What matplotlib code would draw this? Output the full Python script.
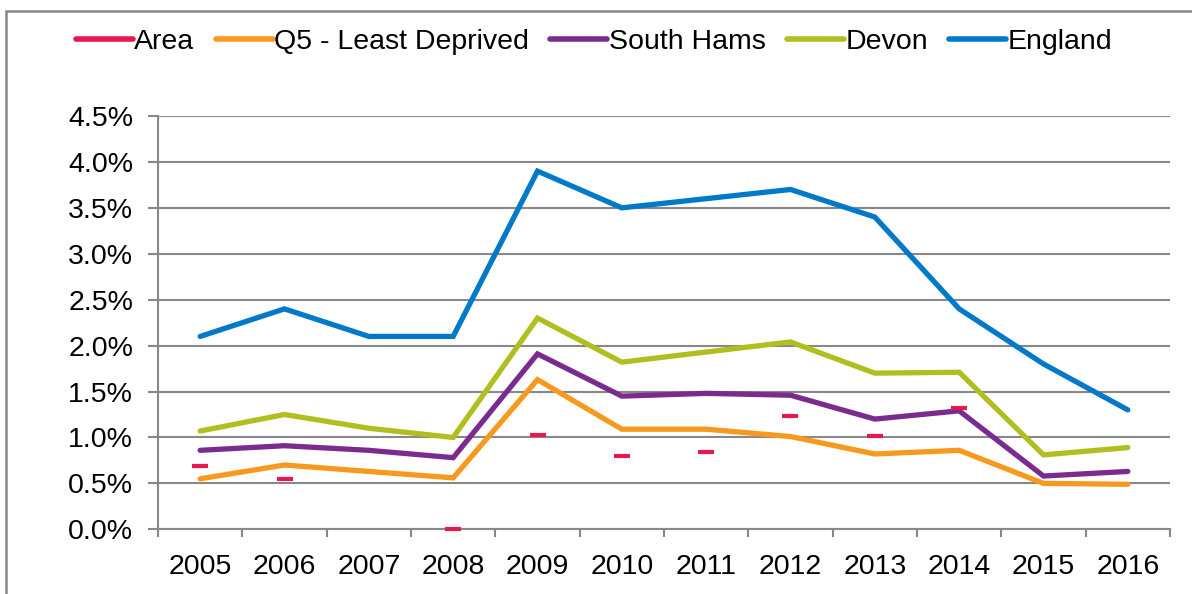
import numpy as np
import matplotlib
matplotlib.use("Agg")
import matplotlib.pyplot as plt
from matplotlib.lines import Line2D
from matplotlib.patches import Rectangle
from matplotlib.ticker import FuncFormatter

plt.rcParams['font.family'] = ['Liberation Sans', 'DejaVu Sans']

years = ['2005', '2006', '2007', '2008', '2009', '2010', '2011', '2012',
         '2013', '2014', '2015', '2016']
area = [0.69, 0.55, np.nan, 0.0, 1.03, 0.80, 0.84, 1.23, 1.02, 1.32, np.nan, np.nan]
q5 = [0.55, 0.70, 0.63, 0.56, 1.63, 1.09, 1.09, 1.01, 0.82, 0.86, 0.50, 0.49]
south_hams = [0.86, 0.91, 0.86, 0.78, 1.91, 1.45, 1.48, 1.46, 1.20, 1.29, 0.58, 0.63]
devon = [1.07, 1.25, 1.10, 1.00, 2.30, 1.82, 1.93, 2.04, 1.70, 1.71, 0.81, 0.89]
england = [2.1, 2.4, 2.1, 2.1, 3.9, 3.5, 3.6, 3.7, 3.4, 2.4, 1.8, 1.3]

c_area = '#E8174F'
c_q5 = '#F7991F'
c_sh = '#7B2A8E'
c_devon = '#B2BE1F'
c_eng = '#0079C8'
grid_c = '#888888'

W, H = 1192, 594
fig = plt.figure(figsize=(W / 100, H / 100), dpi=100)
ax = fig.add_axes([158 / W, 1 - 529.3 / H, (1170 - 158) / W, (529.3 - 116) / H])

x = np.arange(len(years))
lw = 3.8
for vals, c in [(q5, c_q5), (south_hams, c_sh), (devon, c_devon), (england, c_eng)]:
    ax.plot(x, vals, color=c, lw=lw, solid_capstyle='round', solid_joinstyle='miter', zorder=3)
ax.plot(x, area, linestyle='none', marker='_', markersize=11, markeredgewidth=3.0,
        color=c_area, zorder=4, clip_on=False)

ax.set_xlim(-0.5, len(years) - 0.5)
ax.set_ylim(0, 4.5)
ax.set_yticks(np.arange(0, 4.51, 0.5))
ax.yaxis.set_major_formatter(FuncFormatter(lambda v, p: f'{v:.1f}%'))
ax.set_xticks(x)
ax.set_xticklabels(years)
ax.set_xticks(np.arange(-0.5, len(years), 1.0), minor=True)

fs = 20.5
ax.tick_params(axis='x', which='major', length=0, pad=18, labelsize=fs)
ax.tick_params(axis='x', which='minor', length=6, width=1.5, color=grid_c, direction='out')
ax.tick_params(axis='y', which='major', length=7, width=1.5, color=grid_c, direction='out',
               pad=11, labelsize=fs)

ax.grid(axis='y', color=grid_c, lw=1.5, zorder=0)
ax.set_axisbelow(True)
for s in ['top', 'right']:
    ax.spines[s].set_visible(False)
for s in ['left', 'bottom']:
    ax.spines[s].set_color(grid_c)
    ax.spines[s].set_linewidth(1.5)

handles = [Line2D([], [], color=c, lw=4, solid_capstyle='round')
           for c in [c_area, c_q5, c_sh, c_devon, c_eng]]
labels = ['Area', 'Q5 - Least Deprived', 'South Hams', 'Devon', 'England']
fig.legend(handles, labels, loc='center', bbox_to_anchor=(594 / W, 1 - 42 / H), ncol=5,
           frameon=False, fontsize=fs, handlelength=2.0, handletextpad=0.05,
           columnspacing=0.75)

fig.patches.append(Rectangle((6 / W, -0.1), 1.2, (594 - 11) / H + 0.1,
                             transform=fig.transFigure, fill=False,
                             edgecolor=grid_c, lw=1.8))

fig.savefig('out.png', dpi=100)
